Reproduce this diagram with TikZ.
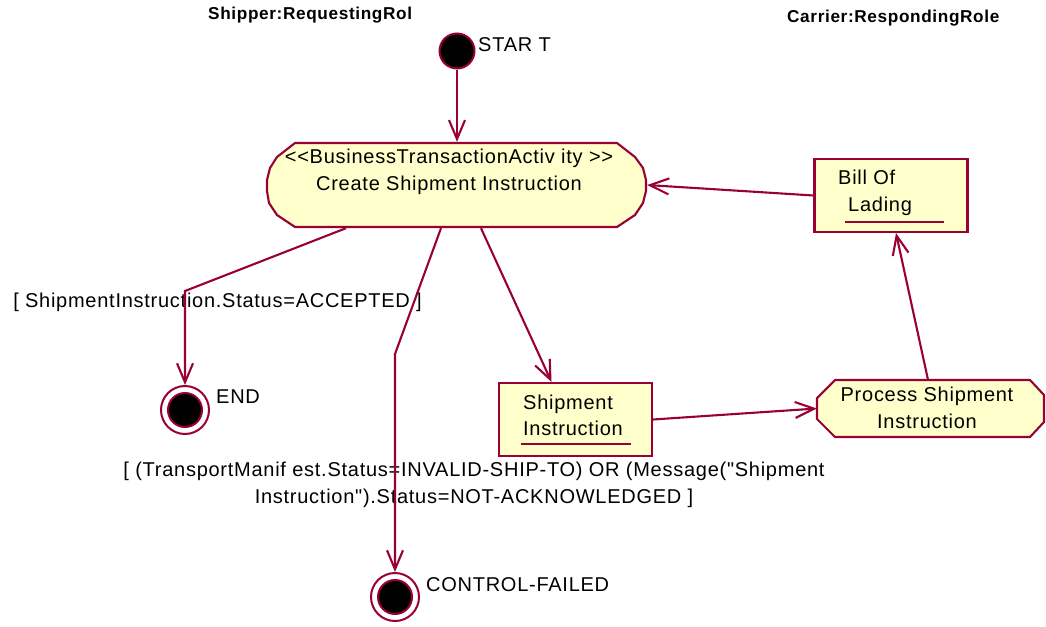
\documentclass[tikz,border=0pt]{standalone}
\usepackage{fontspec}
\newfontfamily\diagfont{Liberation Sans}[LetterSpace=3.7]
\usetikzlibrary{arrows.meta,calc,backgrounds}
\definecolor{rose}{RGB}{153,0,51}
\definecolor{roseyel}{RGB}{255,255,204}
\tikzset{
 txt/.style={font=\diagfont\fontsize{20}{26.5}\selectfont, inner sep=0pt, text=black},
 ttl/.style={font=\diagfont\fontsize{17.2}{20}\selectfont\bfseries, inner sep=0pt, text=black},
 conn/.style={draw=rose, line width=2.1pt, -{Straight Barb[length=19pt,width=16pt,line width=2.1pt]}},
 plainline/.style={draw=rose, line width=2.1pt},
 shapeline/.style={draw=rose, fill=roseyel, line width=2.1pt, line join=miter},
 objbox/.style={draw=rose, fill=roseyel, line width=2.1pt, minimum width=153pt, minimum height=73pt, inner sep=0pt},
 initst/.style={circle, draw=rose, fill=black, line width=2pt, minimum size=35pt, inner sep=0pt},
 finout/.style={circle, draw=rose, fill=white, line width=2pt, minimum size=48pt, inner sep=0pt},
 finin/.style={circle, draw=rose, fill=black, line width=2pt, minimum size=34pt, inner sep=0pt},
 shapebox/.style={inner sep=0pt, draw=none},
}
\begin{document}
\begin{tikzpicture}[x=1pt,y=-1pt]
\useasboundingbox (0,0) rectangle (1046,626);
% swimlane titles
\node[ttl, anchor=west] (shipper) at (208,15.5) {Shipper:RequestingRol};
\node[ttl, anchor=west] (carrier) at (787,18) {Carrier:RespondingRole};
% start
\node[initst] (start) at (457,51) {};
\node[txt, anchor=west] (startlbl) at (478,44.5) {STAR T};
% activity
\node[shapebox, minimum width=380pt, minimum height=86pt] (act) at (457,185) {};
\node[txt, align=center] (acttxt) at (449,172) {<<BusinessTransactionActiv ity >>\\Create Shipment Instruction};
% bill of lading
\node[objbox] (bill) at (891,195.5) {};
\node[txt, align=left, anchor=west] (billtxt) at (838,193) {Bill Of\\\hspace*{10pt}Lading};
\draw[plainline] ($(bill.south west)+(32,-11)$) -- ($(bill.south west)+(131,-11)$);
% shipment instruction
\node[objbox] (ship) at (575.5,419.5) {};
\node[txt, align=left, anchor=west] (shiptxt) at (523,415.5) {Shipment\\Instruction};
\draw[plainline] ($(ship.south west)+(23,-13)$) -- ($(ship.south west)+(133,-13)$);
% process shipment instruction
\node[shapebox, minimum width=228pt, minimum height=57pt] (proc) at (931,408.5) {};
\node[txt, align=center] (proctxt) at (927,408) {Process Shipment\\Instruction};
% final states
\node[finout] (endok) at (185,410) {};
\node[finin] (endokin) at (endok.center) {};
\node[txt, anchor=west] (endlbl) at (216,397) {END};
\node[finout] (cf) at (395,597) {};
\node[finin] (cfin) at (cf.center) {};
\node[txt, anchor=west] (cflbl) at (426,584.5) {CONTROL-FAILED};
% guards
\node[txt] (g1) at (217.5,302) {[ ShipmentInstruction.Status=ACCEPTED ]};
\node[txt, align=center] (g2) at (474,485) {[ (TransportManif est.Status=INVALID-SHIP-TO) OR (Message("Shipment\\Instruction").Status=NOT-ACKNOWLEDGED ]};
% shapes on background
\begin{scope}[on background layer]
\draw[shapeline] ($(act.center)+(-162,-42)$) -- ($(act.center)+(160,-42)$) -- ($(act.center)+(178,-28)$) -- ($(act.center)+(186,-17)$) -- ($(act.center)+(189,-5)$) -- ($(act.center)+(189,6)$) -- ($(act.center)+(186,18)$) -- ($(act.center)+(178,30)$) -- ($(act.center)+(160,42)$) -- ($(act.center)+(-162,42)$) -- ($(act.center)+(-180,30)$) -- ($(act.center)+(-188,18)$) -- ($(act.center)+(-190,6)$) -- ($(act.center)+(-190,-5)$) -- ($(act.center)+(-187,-17)$) -- ($(act.center)+(-180,-28)$) -- cycle;
\draw[shapeline] ($(proc.center)+(-96,-28.5)$) -- ($(proc.center)+(99,-28.5)$) -- ($(proc.center)+(113,-13.5)$) -- ($(proc.center)+(113,13.5)$) -- ($(proc.center)+(99,28.5)$) -- ($(proc.center)+(-96,28.5)$) -- ($(proc.center)+(-114,10.5)$) -- ($(proc.center)+(-114,-10.5)$) -- cycle;
\end{scope}
% connectors
\coordinate (k1) at (185,291);
\coordinate (k2) at (395,354);
\draw[conn] (start) -- (act);
\draw[conn] (bill.west) -- (act.east);
\draw[conn] ([xshift=-111pt]act.south) -- (k1) -- (endok.north);
\draw[conn] ([xshift=-16pt]act.south) -- (k2) -- (cf.north);
\draw[conn] ([xshift=24pt]act.south) -- ([xshift=-24pt]ship.north);
\draw[conn] (ship.east) -- (proc.west);
\draw[conn] ([xshift=-3pt]proc.north) -- ([xshift=5pt]bill.south);
\end{tikzpicture}
\end{document}
